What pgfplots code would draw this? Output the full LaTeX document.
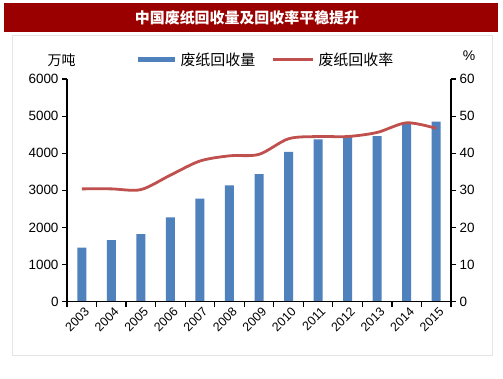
\documentclass[border=0pt]{standalone}
\usepackage{pgfplots}
\pgfplotsset{compat=1.18}
\usepackage{fontspec}
\setmainfont{Liberation Sans}
\newfontfamily\cjk{Noto Sans CJK SC}
\definecolor{titlered}{RGB}{155,0,0}
\definecolor{barblue}{RGB}{79,129,189}
\definecolor{linered}{RGB}{192,80,77}
\begin{document}
\begin{tikzpicture}[x=1bp,y=1bp]
\useasboundingbox (0,0) rectangle (503,378);
\fill[white] (0,0) rectangle (503,378);
\fill[titlered] (4,346) rectangle (498,375);
\node[text=white,font=\cjk\bfseries\fontsize{15}{15}\selectfont] at (247,360.5) {中国废纸回收量及回收率平稳提升};
\draw[gray!20] (12,23) rectangle (492,343);
\node[font=\cjk\fontsize{14}{14}\selectfont] at (61.5,318) {万吨};
\node[font=\fontsize{14}{14}\selectfont] at (469,322) {\%};
\fill[barblue] (138,316) rectangle (175,321);
\node[font=\cjk\fontsize{15}{15}\selectfont, anchor=west] at (177,318) {废纸回收量};
\draw[linered, line width=2.8bp] (273,318.5) -- (313,318.5);
\node[font=\cjk\fontsize{15}{15}\selectfont, anchor=west] at (315,318) {废纸回收率};
\begin{axis}[at={(67bp,76.3bp)}, anchor=south west, scale only axis,
  width=384bp, height=222.7bp,
  xmin=-0.5, xmax=12.5, ymin=0, ymax=6000,
  ytick={0,1000,...,6000},
  axis y line*=left, axis x line*=bottom,
  axis line style={-, line width=1.2bp, black},
  xtick={0,...,12},
  xticklabels={2003,2004,2005,2006,2007,2008,2009,2010,2011,2012,2013,2014,2015},
  xtick style={draw=none},
  ytick style={line width=1.2bp, black},
  tick align=outside, major tick length=5bp,
  x tick label style={rotate=45, anchor=north east, inner sep=1pt, xshift=3bp, font=\fontsize{12.5}{12.5}\selectfont},
  y tick label style={font=\fontsize{13.5}{13.5}\selectfont},
  /pgf/number format/assume math mode=true,
  /pgf/number format/set thousands separator={},
  ]
\addplot[ybar, bar width=9bp, bar shift=0pt, fill=barblue, draw=none] coordinates {
(0,1460) (1,1660) (2,1820) (3,2270) (4,2775) (5,3135) (6,3440) (7,4035) (8,4370) (9,4470) (10,4460) (11,4840) (12,4850)};
\end{axis}
\begin{axis}[at={(67bp,76.3bp)}, anchor=south west, scale only axis,
  width=384bp, height=222.7bp,
  xmin=-0.5, xmax=12.5, ymin=0, ymax=60,
  ytick={0,10,...,60},
  axis y line*=right, axis x line*=bottom,
  axis line style={-, line width=1.2bp, black},
  xtick={-0.5,0.5,...,12.5}, xticklabels={},
  tick style={line width=1.2bp, black},
  tick align=outside, major tick length=5bp,
  tick label style={font=\fontsize{13.5}{13.5}\selectfont},
  /pgf/number format/assume math mode=true,
  ]
\addplot[linered, line width=2.8bp, smooth, tension=0.5] coordinates {
(0,30.4) (1,30.4) (2,30.2) (3,34.1) (4,37.9) (5,39.3) (6,39.7) (7,43.9) (8,44.5) (9,44.5) (10,45.6) (11,48.2) (12,46.7)};
\end{axis}
\end{tikzpicture}
\end{document}
